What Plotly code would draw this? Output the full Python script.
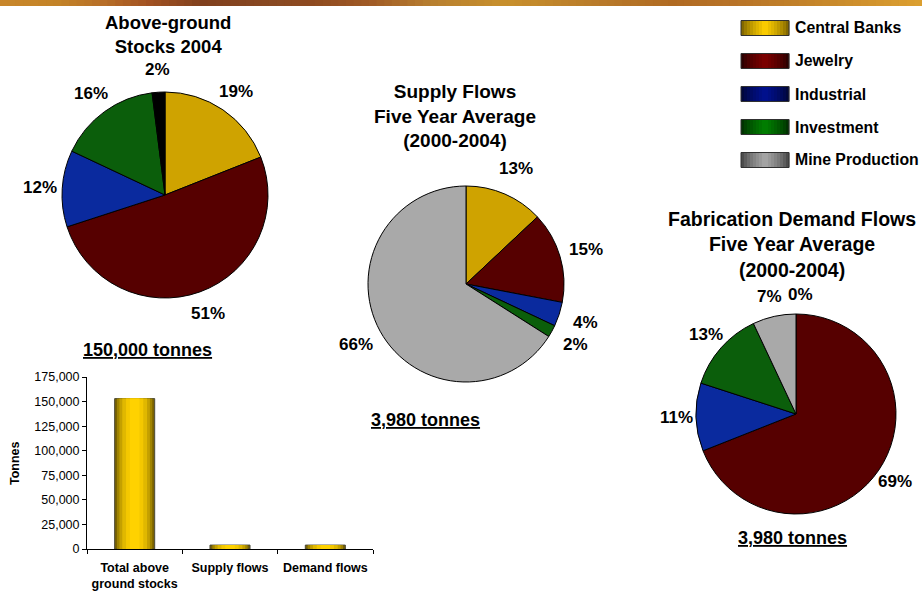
import math
import plotly.graph_objects as go

W, H = 922, 593
FONT = "Liberation Sans, Arial, sans-serif"

# ---- data -------------------------------------------------------------
segments = ["Central Banks", "Jewelry", "Industrial", "Investment", "Mine Production"]

stock_labels = ["Central Banks", "Jewelry", "Industrial", "Investment", "Unaccounted"]
stock_share = [19, 51, 12, 16, 2]          # % of above-ground stocks, 2004

supply_labels = ["Central Banks", "Jewelry", "Industrial", "Investment", "Mine Production"]
supply_share = [13, 15, 4, 2, 66]          # % of supply, 2000-2004 average

demand_labels = ["Central Banks", "Jewelry", "Industrial", "Investment", "Mine Production"]
demand_share = [0, 69, 11, 13, 7]          # % of fabrication demand, 2000-2004 average

bar_categories = ["Total above<br>ground stocks", "Supply flows", "Demand flows"]
bar_tonnes = [153000, 3980, 3980]
tonnes_ticks = [0, 25000, 50000, 75000, 100000, 125000, 150000, 175000]

# ---- styling ----------------------------------------------------------
slice_colors = {
    "Central Banks": "#cfa300",
    "Jewelry": "#560000",
    "Industrial": "#0a2a9e",
    "Investment": "#0b5e0b",
    "Mine Production": "#a9a9a9",
    "Unaccounted": "#000000",
}
swatch_edge = {
    "Central Banks": ("#6e5600", "#ffd000"),
    "Jewelry": ("#200000", "#7e0000"),
    "Industrial": ("#00052e", "#001090"),
    "Investment": ("#002600", "#008000"),
    "Mine Production": ("#3c3c3c", "#a8a8a8"),
}


def px(x):
    return x / W


def py(y):
    return 1 - y / H


def hex_rgb(h):
    h = h.lstrip("#")
    return tuple(int(h[i:i + 2], 16) for i in (0, 2, 4))


def mix(c1, c2, t):
    a, b = hex_rgb(c1), hex_rgb(c2)
    return "rgb(%d,%d,%d)" % tuple(round(a[i] + (b[i] - a[i]) * t) for i in range(3))


fig = go.Figure()
annotations = []
shapes = []

# ---- pies -------------------------------------------------------------
pies = [
    # labels, values, centre x, centre y, radius, label distance factor
    (stock_labels, stock_share, 165, 195, 103, 1.22),
    (supply_labels, supply_share, 466, 284, 98, 1.28),
    (demand_labels, demand_share, 796, 414, 100, 1.2),
]

for labels, values, cx, cy, r, k in pies:
    fig.add_trace(go.Pie(
        labels=labels,
        values=values,
        sort=False,
        direction="clockwise",
        rotation=0,
        textinfo="none",
        hoverinfo="label+percent",
        showlegend=False,
        marker=dict(colors=[slice_colors[l] for l in labels],
                    line=dict(color="#000000", width=1)),
        domain=dict(x=[px(cx - r), px(cx + r)], y=[py(cy + r), py(cy - r)]),
    ))
    total = float(sum(values))
    cum = 0.0
    for v in values:
        theta = 2 * math.pi * (cum + v / 2.0) / total
        cum += v
        lx = cx + k * r * math.sin(theta)
        ly = cy - k * r * math.cos(theta)
        # keep the two labels that share the top of the last pie apart
        if v == 0:
            lx += 4
        annotations.append(dict(
            x=px(lx), y=py(ly), xref="paper", yref="paper",
            text="<b>%d%%</b>" % v, showarrow=False,
            xanchor="center", yanchor="middle",
            font=dict(family=FONT, size=17, color="#000000"),
        ))

# ---- bar chart (layered bars give the cylinder shading) ----------------
bar_layers = [
    (0.42, "#7a6200", dict(color="#4a4a3a", width=1)),
    (0.37, "#a08400", None),
    (0.32, "#c4a000", None),
    (0.26, "#e0b800", None),
    (0.18, "#f4c800", None),
    (0.10, "#ffd200", None),
]
for width, color, line in bar_layers:
    fig.add_trace(go.Bar(
        x=bar_categories, y=bar_tonnes, width=width,
        marker=dict(color=color, line=line or dict(width=0)),
        showlegend=False, hoverinfo="x+y",
        xaxis="x", yaxis="y",
    ))

# ---- titles and totals ------------------------------------------------
def text(x, y, s, size, **kw):
    annotations.append(dict(
        x=px(x), y=py(y), xref="paper", yref="paper", text=s,
        showarrow=False, xanchor=kw.get("xanchor", "center"),
        yanchor="middle", align="center", textangle=kw.get("angle", 0),
        font=dict(family=FONT, size=size, color="#000000"),
    ))

text(168, 35, "<b>Above-ground<br>Stocks 2004</b>", 18.5)
text(455, 116, "<b>Supply Flows<br>Five Year Average<br>(2000-2004)</b>", 19)
text(792, 244, "<b>Fabrication Demand Flows<br>Five Year Average<br>(2000-2004)</b>", 19.5)

for x, y, s in [(147, 350, "150,000 tonnes"), (425, 420, "3,980 tonnes"), (792, 538, "3,980 tonnes")]:
    text(x, y, '<b><span style="text-decoration:underline">%s</span></b>' % s, 18)

text(15, 463, "<b>Tonnes</b>", 12.5, angle=-90)

# ---- legend drawn as swatches + labels --------------------------------
legend_rows = [28, 61, 94, 127, 160]
for name, yc in zip(segments, legend_rows):
    dark, light = swatch_edge[name]
    x0, x1, hh = 741, 789, 7.5
    n = 16
    for i in range(n):
        t = 1 - abs((i + 0.5) / n - 0.5) * 2
        shapes.append(dict(
            type="rect", xref="paper", yref="paper",
            x0=px(x0 + (x1 - x0) * i / n), x1=px(x0 + (x1 - x0) * (i + 1) / n + 0.3),
            y0=py(yc + hh), y1=py(yc - hh),
            fillcolor=mix(dark, light, t ** 0.7), line=dict(width=0),
        ))
    shapes.append(dict(
        type="rect", xref="paper", yref="paper",
        x0=px(x0), x1=px(x1), y0=py(yc + hh), y1=py(yc - hh),
        line=dict(color="#303030", width=1),
    ))
    text(793, yc, "<b>%s</b>" % name, 15.8, xanchor="left")

# ---- decorative strip across the top ------------------------------------
strip_stops = [
    (0.00, "#c8862a"), (0.06, "#c48428"), (0.11, "#b87028"), (0.16, "#a25222"),
    (0.22, "#80401e"), (0.30, "#8a4a22"), (0.34, "#8e4a20"), (0.40, "#a05a25"),
    (0.47, "#b88030"), (0.55, "#c8902c"), (0.65, "#b87a2a"), (0.73, "#b06a22"),
    (0.80, "#b87428"), (0.88, "#c4842a"), (1.00, "#dca030"),
]
n_strip = 120
for i in range(n_strip):
    f = (i + 0.5) / n_strip
    for (a, ca), (b, cb) in zip(strip_stops[:-1], strip_stops[1:]):
        if a <= f <= b:
            col = mix(ca, cb, (f - a) / (b - a))
            break
    shapes.append(dict(
        type="rect", xref="paper", yref="paper",
        x0=i / n_strip, x1=(i + 1) / n_strip + 0.001, y0=py(6), y1=1,
        fillcolor=col, line=dict(width=0), layer="above",
    ))

fig.update_layout(
    width=W, height=H,
    margin=dict(l=0, r=0, t=0, b=0, autoexpand=False),
    paper_bgcolor="#ffffff", plot_bgcolor="#ffffff",
    barmode="overlay",
    showlegend=False,
    annotations=annotations,
    shapes=shapes,
    xaxis=dict(
        domain=[px(87), px(373)],
        type="category", automargin=False,
        showline=True, linecolor="#000000", linewidth=1,
        ticks="outside", ticklen=4, tickcolor="#000000", tickson="boundaries",
        ticklabelstandoff=7,
        tickfont=dict(family=FONT, size=12.5, color="#000000", weight="bold"),
        showgrid=False, fixedrange=True,
    ),
    yaxis=dict(
        domain=[py(549), py(377)],
        range=[0, 175000], automargin=False,
        tickvals=tonnes_ticks, tickformat=",",
        showline=True, linecolor="#000000", linewidth=1,
        ticks="outside", ticklen=4, tickcolor="#000000",
        tickfont=dict(family=FONT, size=12.5, color="#000000"),
        showgrid=False, zeroline=False, fixedrange=True,
    ),
)

fig.write_html("out.html")
